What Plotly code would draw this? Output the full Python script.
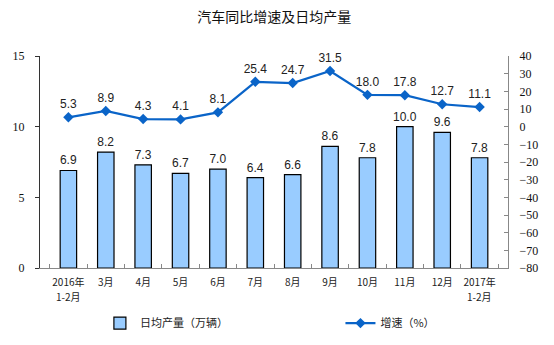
import plotly.graph_objects as go

categories = ["2016年1-2月", "3月", "4月", "5月", "6月", "7月", "8月", "9月", "10月", "11月", "12月", "2017年1-2月"]
tick_line1 = ["2016年", "3月", "4月", "5月", "6月", "7月", "8月", "9月", "10月", "11月", "12月", "2017年"]
tick_line2 = ["1-2月", "", "", "", "", "", "", "", "", "", "", "1-2月"]
daily_output = [6.9, 8.2, 7.3, 6.7, 7.0, 6.4, 6.6, 8.6, 7.8, 10.0, 9.6, 7.8]
growth = [5.3, 8.9, 4.3, 4.1, 8.1, 25.4, 24.7, 31.5, 18.0, 17.8, 12.7, 11.1]
left_ticks = [0, 5, 10, 15]
right_ticks = list(range(-80, 41, 10))

fig = go.Figure()
fig.add_trace(go.Bar(
    x=categories, y=daily_output, name="日均产量（万辆）",
    marker=dict(color="#99CCFF", line=dict(color="black", width=1.2)),
    width=0.44,
    text=[f"{v:.1f}" for v in daily_output], textposition="outside",
    constraintext="none",
    textfont=dict(family="Liberation Sans", size=12, color="#222"),
    cliponaxis=False, legend="legend",
))
fig.add_trace(go.Scatter(
    x=categories, y=growth, name="增速（%）", yaxis="y2",
    mode="lines+markers+text",
    line=dict(color="#0A64C8", width=2.2),
    marker=dict(symbol="diamond", size=8, color="#0A64C8"),
    text=[f"{v:.1f}" for v in growth], textposition="top center",
    textfont=dict(family="Liberation Sans", size=12, color="#222"),
    cliponaxis=False, legend="legend2",
))

tick_font = dict(family="Noto Sans CJK SC", size=10, color="#222")
for cat, t2 in zip(categories, tick_line2):
    if t2:
        fig.add_annotation(x=cat, xref="x", y=0, yref="paper", yshift=-28,
                           yanchor="middle", text=t2, showarrow=False, font=tick_font)

legend_font = dict(family="Noto Sans CJK SC", size=11, color="#222")
fig.update_layout(
    width=554, height=345,
    margin=dict(l=40, r=46, t=56, b=77, autoexpand=False),
    plot_bgcolor="white", paper_bgcolor="white",
    title=dict(text="汽车同比增速及日均产量", x=0.495, xanchor="center", y=0.95, yanchor="middle",
               font=dict(family="Noto Sans CJK SC", size=14, color="#111")),
    showlegend=True,
    legend=dict(orientation="h", x=0.128, xanchor="left", y=-0.26, yanchor="middle",
                font=legend_font, bgcolor="rgba(0,0,0,0)"),
    legend2=dict(orientation="h", x=0.642, xanchor="left", y=-0.26, yanchor="middle",
                 font=legend_font, bgcolor="rgba(0,0,0,0)"),
    xaxis=dict(type="category", tickson="boundaries", ticks="inside", ticklen=4,
               tickvals=categories, ticktext=tick_line1,
               tickangle=0, automargin=False, ticklabelstandoff=5,
               tickcolor="#888", showline=True, linecolor="#888", linewidth=1,
               tickfont=tick_font),
    yaxis=dict(range=[0, 15], tickvals=left_ticks, showgrid=False, zeroline=False,
               showline=True, linecolor="#333", linewidth=1, ticks="outside", ticklen=4,
               tickcolor="#333", automargin=False, ticklabelstandoff=8,
               tickfont=dict(family="Liberation Serif", size=12, color="#111")),
    yaxis2=dict(range=[-80, 40], tickvals=right_ticks, overlaying="y", side="right",
                showgrid=False, zeroline=False, showline=True, linecolor="#888", linewidth=1,
                ticks="inside", ticklen=4, tickcolor="#888", automargin=False,
                ticklabelstandoff=8,
                tickfont=dict(family="Liberation Serif", size=12, color="#111")),
)
fig.write_html("out.html")
